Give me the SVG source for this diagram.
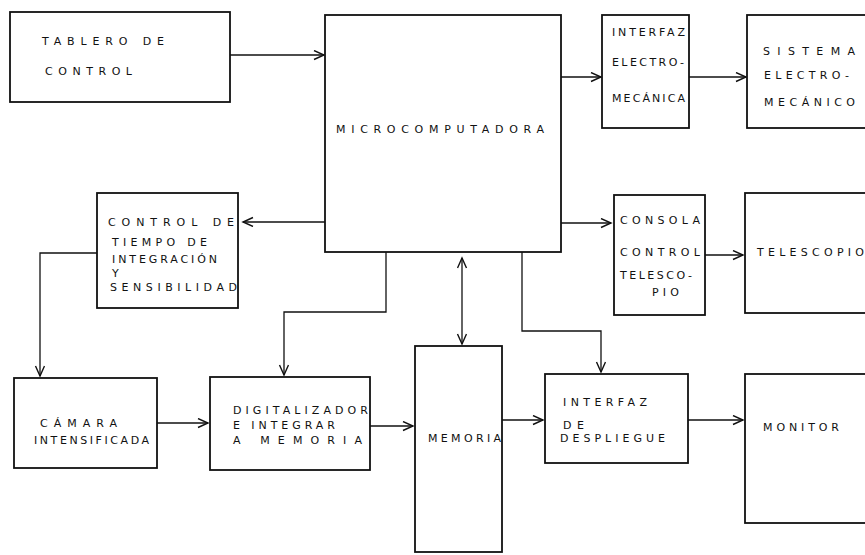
<svg xmlns="http://www.w3.org/2000/svg" width="865" height="555" viewBox="0 0 865 555">
<style>
.box{fill:#fff;stroke:#111;stroke-width:1.8}
.t{font-family:"DejaVu Sans","Liberation Sans",Arial,sans-serif;font-size:11px;fill:#111}
.c{fill:none;stroke:#111;stroke-width:1.3}
</style>
<defs>
<marker id="ah" markerUnits="userSpaceOnUse" markerWidth="14" markerHeight="12" refX="11" refY="5" orient="auto-start-reverse" viewBox="0 0 14 12">
<path d="M1,0.5 L11,5 L1,9.5" fill="none" stroke="#111" stroke-width="1.4"/>
</marker>
</defs>
<rect width="865" height="555" fill="#fff"/>
<g id="connectors">
<path class="c" d="M230,55 H324" marker-end="url(#ah)"/>
<path class="c" d="M561,77 H601" marker-end="url(#ah)"/>
<path class="c" d="M689,77 H746" marker-end="url(#ah)"/>
<path class="c" d="M325,222 H243" marker-end="url(#ah)"/>
<path class="c" d="M561,223 H611" marker-end="url(#ah)"/>
<path class="c" d="M705,255 H743" marker-end="url(#ah)"/>
<path class="c" d="M97,253 H40 V376" marker-end="url(#ah)"/>
<path class="c" d="M386,252 V312 H284 V375" marker-end="url(#ah)"/>
<path class="c" d="M462,258 V344" marker-start="url(#ah)" marker-end="url(#ah)"/>
<path class="c" d="M522,252 V331 H601 V372" marker-end="url(#ah)"/>
<path class="c" d="M157,423 H208" marker-end="url(#ah)"/>
<path class="c" d="M370,426 H413" marker-end="url(#ah)"/>
<path class="c" d="M502,420 H543" marker-end="url(#ah)"/>
<path class="c" d="M688,420 H743" marker-end="url(#ah)"/>
</g>
<g id="tablero">
<rect class="box" x="10" y="12" width="220" height="90"/>
<text class="t" x="42" y="45" font-size="12" textLength="122" lengthAdjust="spacing">TABLERO DE</text>
<text class="t" x="45" y="75" font-size="12" textLength="87" lengthAdjust="spacing">CONTROL</text>
</g>
<g id="micro">
<rect class="box" x="325" y="15" width="236" height="237"/>
<text class="t" x="336" y="133" font-size="14" textLength="208" lengthAdjust="spacing">MICROCOMPUTADORA</text>
</g>
<g id="interfaz-em">
<rect class="box" x="602" y="15" width="87" height="113"/>
<text class="t" x="612" y="36" font-size="10" textLength="73" lengthAdjust="spacing">INTERFAZ</text>
<text class="t" x="612" y="66" font-size="10" textLength="72" lengthAdjust="spacing">ELECTRO-</text>
<text class="t" x="612" y="102" font-size="10" textLength="73" lengthAdjust="spacing">MECÁNICA</text>
</g>
<g id="sistema-em">
<rect class="box" x="747" y="15" width="130" height="113"/>
<text class="t" x="763" y="55" font-size="13" textLength="92" lengthAdjust="spacing">SISTEMA</text>
<text class="t" x="764" y="79" font-size="10" textLength="85" lengthAdjust="spacing">ELECTRO-</text>
<text class="t" x="764" y="106" font-size="10" textLength="91" lengthAdjust="spacing">MECÁNICO</text>
</g>
<g id="control-tiempo">
<rect class="box" x="97" y="193" width="141" height="115"/>
<text class="t" x="108" y="226" textLength="126" lengthAdjust="spacing">CONTROL DE</text>
<text class="t" x="112" y="246" textLength="95" lengthAdjust="spacing">TIEMPO DE</text>
<text class="t" x="112" y="263" textLength="105" lengthAdjust="spacing">INTEGRACIÓN</text>
<text class="t" x="112" y="277">Y</text>
<text class="t" x="110" y="291" textLength="127" lengthAdjust="spacing">SENSIBILIDAD</text>
</g>
<g id="consola">
<rect class="box" x="614" y="195" width="91" height="120"/>
<text class="t" x="620" y="224" font-size="10.5" textLength="80" lengthAdjust="spacing">CONSOLA</text>
<text class="t" x="620" y="256" font-size="10.5" textLength="80" lengthAdjust="spacing">CONTROL</text>
<text class="t" x="620" y="279" font-size="9.5" textLength="72" lengthAdjust="spacing">TELESCO-</text>
<text class="t" x="652" y="296" font-size="9.5" textLength="27" lengthAdjust="spacing">PIO</text>
</g>
<g id="telescopio">
<rect class="box" x="745" y="193" width="130" height="120"/>
<text class="t" x="757" y="256" font-size="12" textLength="107" lengthAdjust="spacing">TELESCOPIO</text>
</g>
<g id="camara">
<rect class="box" x="14" y="378" width="143" height="90"/>
<text class="t" x="40" y="427" font-size="12" textLength="77" lengthAdjust="spacing">CÁMARA</text>
<text class="t" x="34" y="444" font-size="9.5" textLength="115" lengthAdjust="spacing">INTENSIFICADA</text>
</g>
<g id="digitalizador">
<rect class="box" x="210" y="377" width="160" height="93"/>
<text class="t" x="233" y="414" textLength="135" lengthAdjust="spacing">DIGITALIZADOR</text>
<text class="t" x="233" y="429" textLength="102" lengthAdjust="spacing">E INTEGRAR</text>
<text class="t" x="233" y="444" textLength="129" lengthAdjust="spacing">A MEMORIA</text>
</g>
<g id="memoria">
<rect class="box" x="415" y="346" width="87" height="206"/>
<text class="t" x="428" y="442" font-size="10.5" textLength="73" lengthAdjust="spacing">MEMORIA</text>
</g>
<g id="interfaz-despliegue">
<rect class="box" x="545" y="374" width="143" height="89"/>
<text class="t" x="563" y="406" textLength="84" lengthAdjust="spacing">INTERFAZ</text>
<text class="t" x="563" y="429" textLength="21" lengthAdjust="spacing">DE</text>
<text class="t" x="560" y="442" textLength="105" lengthAdjust="spacing">DESPLIEGUE</text>
</g>
<g id="monitor">
<rect class="box" x="745" y="374" width="130" height="149"/>
<text class="t" x="763" y="431" font-size="12" textLength="76" lengthAdjust="spacing">MONITOR</text>
</g>
</svg>
